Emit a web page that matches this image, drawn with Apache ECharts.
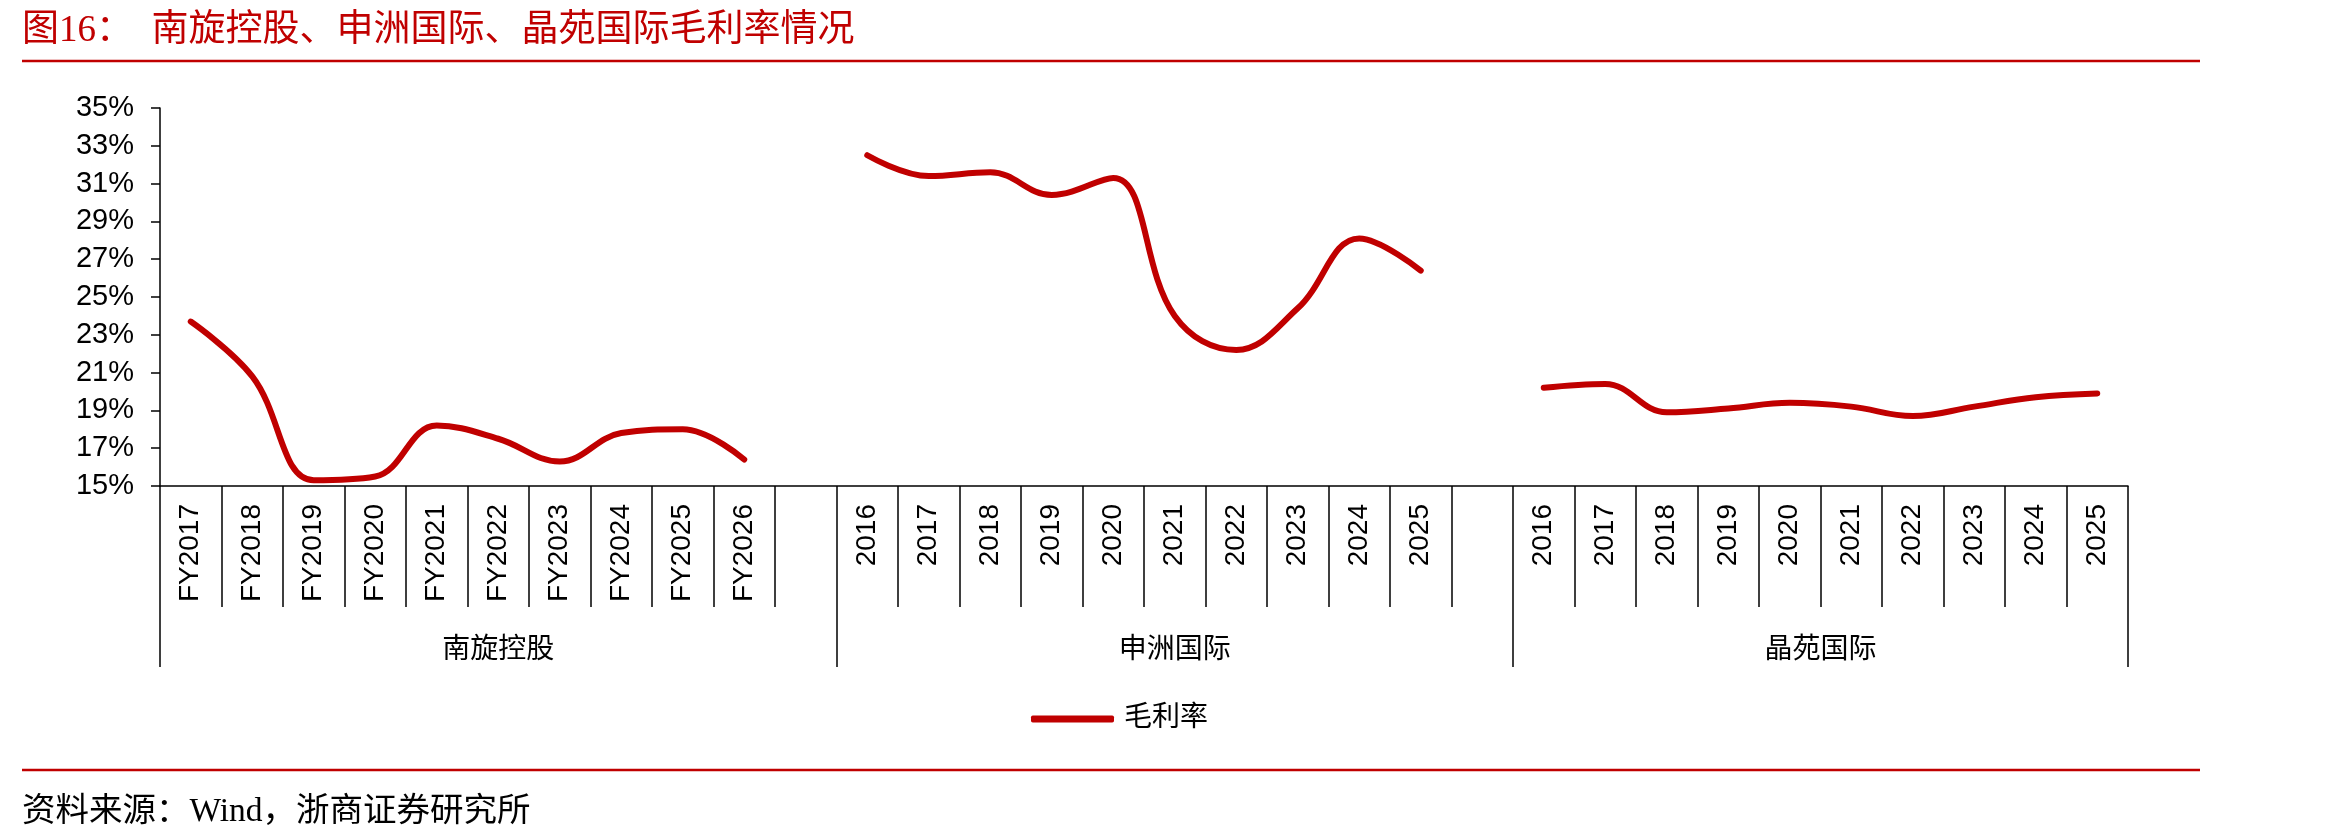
<!DOCTYPE html>
<html><head><meta charset="utf-8">
<script src="https://cdn.jsdelivr.net/npm/echarts@6/dist/echarts.min.js"></script>
<style>html,body{margin:0;padding:0;background:#fff}#c{width:2330px;height:838px}</style>
</head><body><div id="c"></div>
<script>
const titleText = '图16：  南旋控股、申洲国际、晶苑国际毛利率情况';
const sourceText = '资料来源：Wind，浙商证券研究所';
const seriesName = '毛利率';
const groupNames = ['南旋控股', '申洲国际', '晶苑国际'];
const nanxuanCats = ['FY2017','FY2018','FY2019','FY2020','FY2021','FY2022','FY2023','FY2024','FY2025','FY2026'];
const nanxuanVals = [23.7, 20.8, 15.3, 15.5, 18.2, 17.5, 16.3, 17.8, 18.0, 16.4];
const shenzhouCats = ['2016','2017','2018','2019','2020','2021','2022','2023','2024','2025'];
const shenzhouVals = [32.5, 31.4, 31.6, 30.4, 31.3, 24.0, 22.2, 24.4, 28.1, 26.4];
const jingyuanCats = ['2016','2017','2018','2019','2020','2021','2022','2023','2024','2025'];
const jingyuanVals = [20.2, 20.4, 18.9, 19.1, 19.4, 19.2, 18.7, 19.2, 19.7, 19.9];
const yTickLabels = ['15%','17%','19%','21%','23%','25%','27%','29%','31%','33%','35%'];
const groupPads = [1, 1, 0];

const groups = [
  {name: groupNames[0], cats: nanxuanCats, vals: nanxuanVals, pad: groupPads[0]},
  {name: groupNames[1], cats: shenzhouCats, vals: shenzhouVals, pad: groupPads[1]},
  {name: groupNames[2], cats: jingyuanCats, vals: jingyuanVals, pad: groupPads[2]}
];
const xCats = [], yVals = [], groupStarts = [], groupSizes = [];
groups.forEach(g => {
  groupStarts.push(xCats.length);
  g.cats.forEach((c, i) => { xCats.push(c); yVals.push(g.vals[i]); });
  for (let k = 0; k < g.pad; k++) { xCats.push(''); yVals.push(null); }
  groupSizes.push(g.cats.length + g.pad);
});
const nCat = xCats.length;
const halfCats = new Array(2 * nCat + 1).fill('');
const sepIdx = new Set();
groups.forEach((g, gi) => {
  const s = groupStarts[gi], n = groupSizes[gi];
  halfCats[2 * s + n] = g.name;
  sepIdx.add(2 * s); sepIdx.add(2 * (s + n));
});

const SANS = "'Liberation Sans', Arial, 'Noto Sans CJK SC', sans-serif";
const CJK = "'Noto Sans CJK SC', sans-serif";
const SERIF = "'Liberation Serif', 'Noto Sans CJK SC', serif";
const RED = '#C00000';
const axisLine = {color: '#000', width: 1.5};

const chart = echarts.init(document.getElementById('c'), null, {renderer: 'canvas'});
chart.setOption({
  animation: false,
  backgroundColor: '#fff',
  grid: {left: 160, right: 202, top: 108, bottom: 352, containLabel: false},
  legend: {
    data: [{name: seriesName, icon: 'roundRect'}], left: 1026, top: 700, itemWidth: 83, itemHeight: 7,
    itemStyle: {color: RED},
    textStyle: {fontSize: 28, fontFamily: SERIF, color: '#000', padding: [0, 0, 0, 5]}
  },
  xAxis: [
    {
      type: 'category', data: xCats, position: 'bottom', boundaryGap: true,
      axisLine: {show: true, lineStyle: axisLine},
      axisTick: {show: true, length: 121, interval: 0, lineStyle: axisLine},
      axisLabel: {interval: 0, rotate: 90, margin: 18, fontSize: 28, fontFamily: SANS, color: '#000'},
      splitLine: {show: false}
    },
    {
      type: 'category', data: halfCats, position: 'bottom', boundaryGap: false,
      axisLine: {show: false},
      axisTick: {show: true, length: 181, interval: (i) => sepIdx.has(i), lineStyle: axisLine},
      axisLabel: {interval: (i, v) => v !== '', margin: 147, fontSize: 28, fontFamily: CJK, color: '#000'},
      splitLine: {show: false}
    }
  ],
  yAxis: [
    {type: 'value', min: 15, max: 35, show: false},
    {
      type: 'category', data: yTickLabels, boundaryGap: false, position: 'left',
      axisLine: {show: true, lineStyle: axisLine},
      axisTick: {show: true, length: 9, interval: 0, lineStyle: axisLine},
      axisLabel: {interval: 0, margin: 26, fontSize: 29, fontFamily: SANS, color: '#000'},
      splitLine: {show: false}
    }
  ],
  series: [{
    name: seriesName, type: 'line', data: yVals, xAxisIndex: 0, yAxisIndex: 0,
    smooth: 0.4, symbol: 'none', showSymbol: false, connectNulls: false,
    lineStyle: {color: RED, width: 6, cap: 'round', join: 'round'},
    itemStyle: {color: RED}
  }],
  graphic: [
    {type: 'text', x: 22, y: 31, style: {text: titleText, font: '37px ' + SERIF, fill: RED, verticalAlign: 'middle'}},
    {type: 'line', shape: {x1: 22, y1: 61, x2: 2200, y2: 61}, style: {stroke: RED, lineWidth: 2.5}},
    {type: 'line', shape: {x1: 22, y1: 770, x2: 2200, y2: 770}, style: {stroke: RED, lineWidth: 2.5}},
    {type: 'text', x: 22, y: 812, style: {text: sourceText, font: '33.5px ' + SERIF, fill: '#000', verticalAlign: 'middle'}}
  ]
});
</script>
</body></html>
